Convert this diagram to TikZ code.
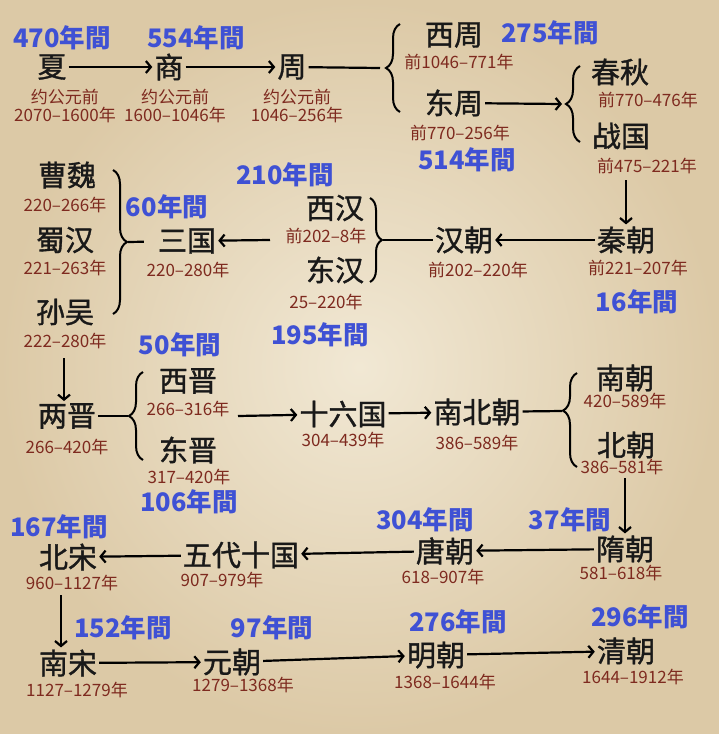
\documentclass[tikz,border=0pt]{standalone}
\usepackage{fontspec}
\setmainfont{Noto Sans CJK SC}
\newfontfamily\erafont{Noto Sans CJK SC}[FakeBold=1.2]
\usetikzlibrary{arrows.meta,positioning,decorations.pathreplacing}
\definecolor{paper}{HTML}{F1E8D4}
\definecolor{paperedge}{HTML}{DCC9A6}
\definecolor{yearred}{HTML}{7E2A1F}
\definecolor{spanblue}{HTML}{3F51D4}

\begin{document}
\begin{tikzpicture}[x=1pt, y=-1pt,
  era/.style={font=\erafont\fontsize{29}{32}\selectfont, text=black!90, inner sep=2pt},
  yrs/.style={font=\fontsize{17}{18.5}\selectfont, text=yearred, inner sep=0pt, align=center},
  span/.style={font=\fontsize{25.5}{27}\selectfont\bfseries, text=spanblue, inner sep=0pt},
  arr/.style={-{Straight Barb[length=5pt,width=12pt]}, line width=2.2pt},
  link/.style={line width=2.2pt},
  brc/.style={decorate, decoration={brace, amplitude=14pt}, line width=2pt}]
  \fill[inner color=paper, outer color=paperedge] (0,0) rectangle (719,734);
  \useasboundingbox (0,0) rectangle (719,734);

  % row 1
  \node[era] (xia) at (52,67) {夏};
  \node[yrs] (xia-d) at (65,106) {约公元前\\2070–1600年};
  \node[era] (shang) at (169,67) {商};
  \node[yrs] (shang-d) at (175,106) {约公元前\\1600–1046年};
  \node[era] (zhou) at (292,67) {周};
  \node[yrs] (zhou-d) at (297,106) {约公元前\\1046–256年};
  \node[era] (xizhou) at (454,35) {西周};
  \node[yrs] (xizhou-d) at (459,62) {前1046–771年};
  \node[era] (dongzhou) at (454,103) {东周};
  \node[yrs] (dongzhou-d) at (460,133) {前770–256年};
  \node[era] (chunqiu) at (620,72) {春秋};
  \node[yrs] (chunqiu-d) at (648,100) {前770–476年};
  \node[era] (zhanguo) at (621,136) {战国};
  \node[yrs] (zhanguo-d) at (647,166) {前475–221年};

  % row 2
  \node[era] (qin) at (626,240) {秦朝};
  \node[yrs] (qin-d) at (638,268) {前221–207年};
  \node[era] (han) at (464,240) {汉朝};
  \node[yrs] (han-d) at (478,270) {前202–220年};
  \node[era] (xihan) at (335,208) {西汉};
  \node[yrs] (xihan-d) at (326,236) {前202–8年};
  \node[era] (donghan) at (335,270) {东汉};
  \node[yrs] (donghan-d) at (326,302) {25–220年};
  \node[era] (sanguo) at (187,241) {三国};
  \node[yrs] (sanguo-d) at (188,270) {220–280年};
  \node[era] (caowei) at (67,175) {曹魏};
  \node[yrs] (caowei-d) at (65,205) {220–266年};
  \node[era] (shuhan) at (65,240) {蜀汉};
  \node[yrs] (shuhan-d) at (65,268) {221–263年};
  \node[era] (sunwu) at (65,312) {孙吴};
  \node[yrs] (sunwu-d) at (65,341) {222–280年};

  % row 3
  \node[era] (liangjin) at (67,416) {两晋};
  \node[yrs] (liangjin-d) at (67,447) {266–420年};
  \node[era] (xijin) at (188,381) {西晋};
  \node[yrs] (xijin-d) at (188,409) {266–316年};
  \node[era] (dongjin) at (188,450) {东晋};
  \node[yrs] (dongjin-d) at (189,477) {317–420年};
  \node[era] (shiliu) at (343,414) {十六国};
  \node[yrs] (shiliu-d) at (343,440) {304–439年};
  \node[era] (nanbei) at (477,412) {南北朝};
  \node[yrs] (nanbei-d) at (477,443) {386–589年};
  \node[era] (nanchao) at (625,378) {南朝};
  \node[yrs] (nanchao-d) at (625,401) {420–589年};
  \node[era] (beichao) at (626,445) {北朝};
  \node[yrs] (beichao-d) at (622,467) {386–581年};

  % row 4
  \node[era] (sui) at (625,549) {隋朝};
  \node[yrs] (sui-d) at (621,573) {581–618年};
  \node[era] (tang) at (445,551) {唐朝};
  \node[yrs] (tang-d) at (443,577) {618–907年};
  \node[era] (wudai) at (241,555) {五代十国};
  \node[yrs] (wudai-d) at (222,580) {907–979年};
  \node[era] (beisong) at (68,557) {北宋};
  \node[yrs] (beisong-d) at (72,583) {960–1127年};

  % row 5
  \node[era] (nansong) at (68,663) {南宋};
  \node[yrs] (nansong-d) at (77,690) {1127–1279年};
  \node[era] (yuan) at (232,662) {元朝};
  \node[yrs] (yuan-d) at (243,685) {1279–1368年};
  \node[era] (ming) at (436,655) {明朝};
  \node[yrs] (ming-d) at (445,682) {1368–1644年};
  \node[era] (qing) at (626,651) {清朝};
  \node[yrs] (qing-d) at (633,677) {1644–1912年};

  % durations
  \foreach \n/\x/\y in {470/62/38, 554/196/38, 275/550/33, 514/467/160,
      16/637/302, 210/285/175, 195/320/335, 60/167/207,
      50/180/345, 106/189/502, 37/570/520, 304/425/520, 167/59/527,
      152/123/628, 97/272/628, 276/458/622, 296/640/617}
    \node[span] (s\n) at (\x,\y) {{\n}年間};

  % braces
  \draw[brc] (400,112) -- (400,24);
  \draw[brc] (580,142) -- (580,66);
  \draw[brc, decoration={amplitude=12pt}] (370,198) -- (370,282);
  \draw[brc] (113,170) -- (113,314);
  \draw[brc] (143,460) -- (143,372);
  \draw[brc, decoration={aspect=0.6}] (577,467) -- (577,373);
  \coordinate (zhoubr) at (380,68);
  \coordinate (dzbr) at (562,104);
  \coordinate (hanbr) at (383,240);
  \coordinate (sgbr) at (128,242);
  \coordinate (ljbr) at (128,416);
  \coordinate (nbbr) at (562,411);
  \coordinate (hanout) at (270,240);
  \coordinate (jinout) at (238,416);
  \coordinate (zgout) at (626,180);
  \coordinate (swout) at (64,358);
  \coordinate (bcout) at (625,478);
  \coordinate (bsout) at (61,595);

  % connectors
  \draw[arr] (xia) -- (shang);
  \draw[arr] (shang) -- (zhou);
  \draw[link] (zhou) -- (zhoubr);
  \draw[arr] (dongzhou) -- (dzbr);
  \draw[arr] (zgout) -- (zgout |- qin.north);
  \draw[arr] (qin) -- (han);
  \draw[link] (han) -- (hanbr);
  \draw[arr] (hanout) -- (sanguo);
  \draw[link, shorten >=12pt] (sgbr) -- (sanguo);
  \draw[arr] (swout) -- (swout |- liangjin.north);
  \draw[link] (liangjin) -- (ljbr);
  \draw[arr] (jinout) -- (shiliu);
  \draw[arr] (shiliu) -- (nanbei);
  \draw[link] (nanbei) -- (nbbr);
  \draw[arr] (bcout) -- (bcout |- sui.north);
  \draw[arr] (sui) -- (tang);
  \draw[arr] (tang) -- (wudai);
  \draw[arr] (wudai) -- (beisong);
  \draw[arr] (bsout) -- (bsout |- nansong.north);
  \draw[arr] (nansong) -- (yuan);
  \draw[arr] (yuan) -- (ming);
  \draw[arr] (ming) -- (qing);
\end{tikzpicture}
\end{document}
